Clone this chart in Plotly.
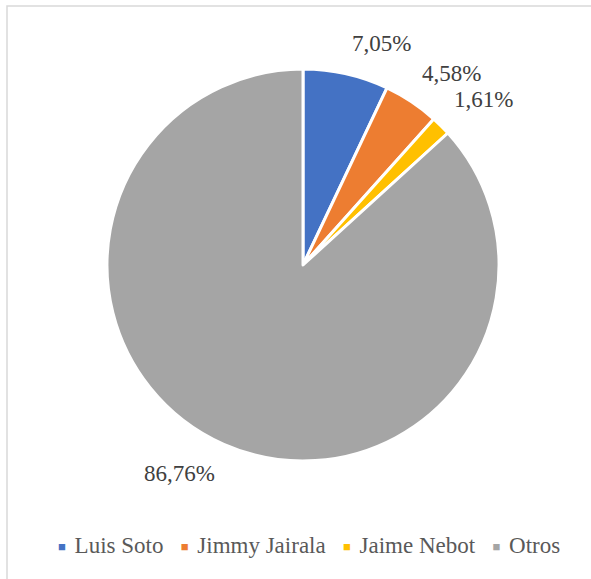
import math
import plotly.graph_objects as go

# Vote share by candidate (%)
candidates = ["Luis Soto", "Jimmy Jairala", "Jaime Nebot", "Otros"]
shares = [7.05, 4.58, 1.61, 86.76]
colors = ["#4472C4", "#ED7D31", "#FFC000", "#A5A5A5"]

W, H = 591, 579
cx, cy, r = 303, 265, 196
FONT = "Times New Roman, Liberation Serif, serif"

fig = go.Figure(
    go.Pie(
        labels=candidates,
        values=shares,
        sort=False,
        direction="clockwise",
        rotation=0,
        marker=dict(colors=colors, line=dict(color="white", width=3)),
        textinfo="none",
        hoverinfo="label+value",
        showlegend=False,
        domain=dict(
            x=[(cx - r) / W, (cx + r) / W],
            y=[1 - (cy + r) / H, 1 - (cy - r) / H],
        ),
    )
)

# Outside data labels, placed just beyond the rim at each slice's mid angle
total = sum(shares)
gap = 16
annotations = []
acc = 0.0
for v in shares:
    mid = (acc + v / 2) / total * 2 * math.pi
    acc += v
    s, c = math.sin(mid), math.cos(mid)
    px = cx + (r + gap) * s
    py = cy - (r + gap) * c
    annotations.append(
        dict(
            x=px / W,
            y=1 - py / H,
            xref="paper",
            yref="paper",
            text=f"{v:.2f}%".replace(".", ","),
            showarrow=False,
            xanchor="left" if s >= 0 else "right",
            yanchor="bottom" if c >= 0 else "top",
            font=dict(family=FONT, size=23, color="#404040"),
        )
    )

# Compact legend row below the pie: coloured square + name for each slice
legend_items = [
    f"<span style='color:{col};font-size:13px;baseline-shift:2px'>■</span>"
    f"<span style='font-size:12px'>&nbsp;</span>&nbsp;{name}"
    for name, col in zip(candidates, colors)
]
annotations.append(
    dict(
        x=(55 + 563) / 2 / W,
        y=1 - 545 / H,
        xref="paper",
        yref="paper",
        text="&nbsp;&nbsp;&nbsp;".join(legend_items),
        showarrow=False,
        xanchor="center",
        yanchor="middle",
        font=dict(family=FONT, size=23, color="#595959"),
    )
)

fig.update_layout(
    width=W,
    height=H,
    margin=dict(l=0, r=0, t=0, b=0),
    paper_bgcolor="white",
    plot_bgcolor="white",
    showlegend=False,
    annotations=annotations,
    shapes=[
        dict(
            type="rect",
            xref="paper",
            yref="paper",
            x0=7 / W,
            x1=1.02,
            y0=-0.02,
            y1=1 - 6 / H,
            line=dict(color="#D9D9D9", width=1.5),
            fillcolor="rgba(0,0,0,0)",
            layer="below",
        )
    ],
)

fig.write_html("out.html")
